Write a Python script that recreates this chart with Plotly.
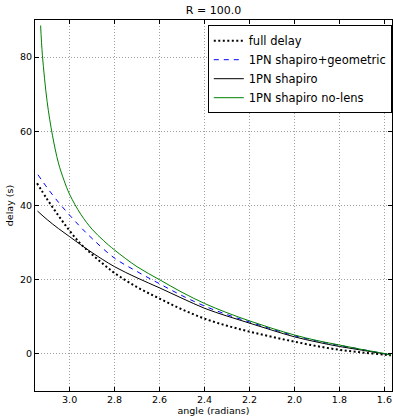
import plotly.graph_objects as go

# ---- data ----
full_angle = [3.145, 3.1, 3.05, 3.0, 2.95, 2.9, 2.85, 2.8, 2.7, 2.6, 2.5, 2.4, 2.3, 2.2, 2.1, 2.0, 1.9, 1.8, 1.7, 1.6, 1.571]
full_delay = [46.0, 41.7, 37.3, 33.2, 29.6, 26.8, 24.2, 21.8, 18.0, 14.9, 12.0, 9.5, 7.6, 6.0, 4.6, 3.3, 2.1, 1.1, 0.4, -0.2, -0.4]

geo_angle = [3.141, 3.1, 3.05, 3.0, 2.95, 2.9, 2.8, 2.7, 2.6, 2.5, 2.4, 2.3, 2.2, 2.1, 2.0, 1.9, 1.8, 1.7, 1.6, 1.571]
geo_delay = [48.3, 44.8, 40.9, 37.4, 34.1, 31.1, 25.8, 22.2, 18.9, 15.7, 12.9, 10.6, 8.6, 6.7, 4.9, 3.5, 2.3, 1.2, 0.05, -0.3]

shap_angle = [3.143, 3.1, 3.05, 3.0, 2.95, 2.9, 2.8, 2.7, 2.6, 2.5, 2.4, 2.3, 2.2, 2.1, 2.0, 1.9, 1.8, 1.7, 1.6, 1.571]
shap_delay = [38.5, 36.2, 33.8, 31.6, 29.4, 27.3, 23.5, 20.5, 17.8, 15.0, 12.3, 10.2, 8.3, 6.4, 4.6, 3.2, 2.0, 1.0, 0.0, -0.3]

nolens_angle = [3.129, 3.121, 3.1, 3.076, 3.05, 3.025, 3.0, 2.95, 2.9, 2.85, 2.8, 2.7, 2.6, 2.5, 2.4, 2.3, 2.2, 2.1, 2.0, 1.9, 1.8, 1.7, 1.6, 1.571]
nolens_delay = [88.5, 80.5, 68.0, 58.8, 51.5, 46.8, 43.0, 37.6, 33.6, 30.6, 28.0, 23.5, 20.0, 16.6, 13.6, 11.1, 8.9, 6.9, 5.1, 3.6, 2.4, 1.2, 0.1, -0.3]

series_names = ["full delay", "1PN shapiro+geometric", "1PN shapiro", "1PN shapiro no-lens"]
x_ticks = [3.0, 2.8, 2.6, 2.4, 2.2, 2.0, 1.8, 1.6]
y_ticks = [0, 20, 40, 60, 80]

fig = go.Figure()
fig.add_trace(go.Scatter(x=full_angle, y=full_delay, mode="lines", name=series_names[0],
                         line=dict(color="black", width=2, dash="2px,2.5px", shape="spline")))
fig.add_trace(go.Scatter(x=geo_angle, y=geo_delay, mode="lines", name=series_names[1],
                         line=dict(color="#0000ff", width=1, dash="5px,5px", shape="spline")))
fig.add_trace(go.Scatter(x=shap_angle, y=shap_delay, mode="lines", name=series_names[2],
                         line=dict(color="black", width=1, shape="spline")))
fig.add_trace(go.Scatter(x=nolens_angle, y=nolens_delay, mode="lines", name=series_names[3],
                         line=dict(color="#008000", width=1, shape="spline")))

axis_common = dict(
    showline=True, linecolor="black", linewidth=1, mirror="ticks",
    ticks="inside", ticklen=4, tickcolor="black", tickwidth=1,
    showgrid=True, gridcolor="#a0a0a0", gridwidth=1, griddash="1px,2px",
    zeroline=False,
    tickfont=dict(family="DejaVu Sans", size=9.5, color="black"),
)

fig.update_xaxes(range=[3.154, 1.566], tickvals=x_ticks, tickformat=".1f",
                 title=dict(text="angle (radians)", font=dict(family="DejaVu Sans", size=9.5, color="black"), standoff=2),
                 **axis_common)
fig.update_yaxes(range=[-10, 90], tickvals=y_ticks,
                 title=dict(text="delay (s)", font=dict(family="DejaVu Sans", size=9.5, color="black"), standoff=4),
                 **axis_common)

fig.update_layout(
    width=393, height=417,
    margin=dict(l=35, r=1, t=20, b=26),
    paper_bgcolor="white", plot_bgcolor="white",
    title=dict(text="R = 100.0", x=0.5, xref="paper", xanchor="center",
               y=1 - 10 / 417, yref="container", yanchor="middle",
               font=dict(family="DejaVu Sans", size=11, color="black")),
    legend=dict(x=0.484, y=0.986, xanchor="left", yanchor="top",
                bgcolor="white", bordercolor="black", borderwidth=1,
                font=dict(family="DejaVu Sans", size=11.5, color="black"),
                itemwidth=30, tracegroupgap=0),
    showlegend=True,
)

fig.write_html("out.html", config={"displayModeBar": False},
               post_script="document.body.style.margin='0';document.body.style.overflow='hidden';")
